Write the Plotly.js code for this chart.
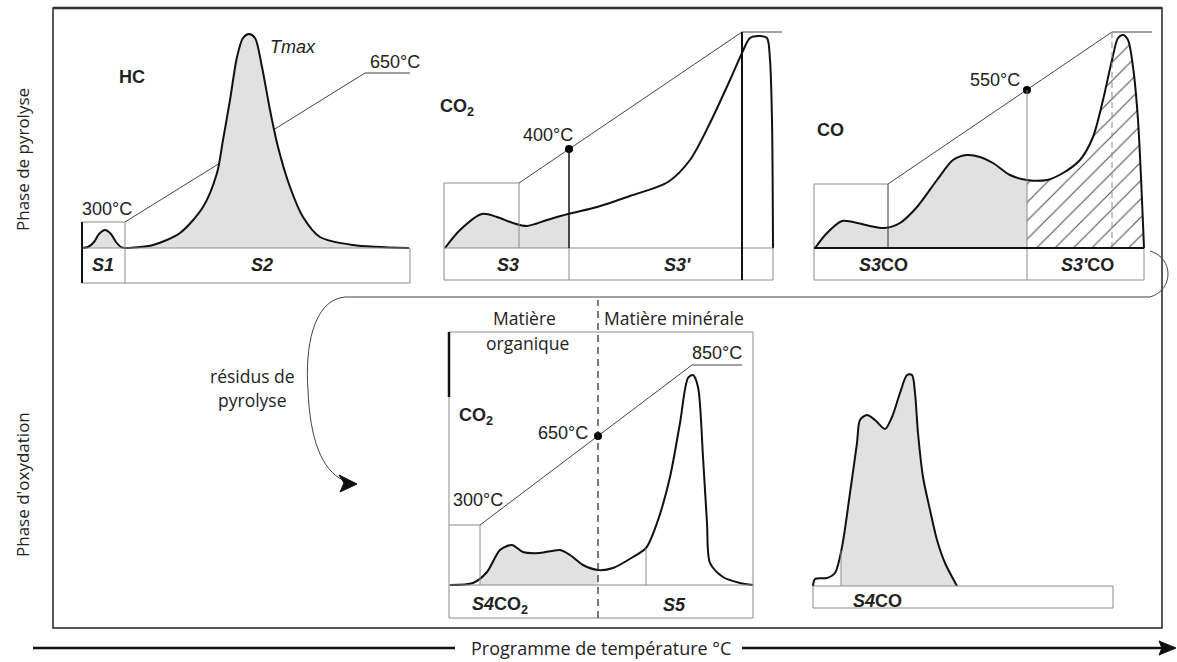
<!DOCTYPE html>
<html><head><meta charset="utf-8">
<script src="https://cdn.plot.ly/plotly-3.0.1.min.js"></script>
<style>html,body{margin:0;padding:0;background:#fff}#chart{width:1177px;height:662px}</style>
</head><body><div id="chart"></div>
<script>
// ---------- DATA (local units: time along panel, signal above baseline) ----------
// Pyrolysis HC (S1 + S2)
const hcT=[2,8,14,19,25,31,36,41,45,73,100,123,137,143,150,157,163,169,175,182,190,198,210,223,240,273,329];
const hcV=[0,1,6,14,18,14,6,1,0,3,15,41,75,108,148,191,210,214,210,181,138,101,61,31,11,3,0];
// Pyrolysis CO2 (S3, S3')
const co2T=[5,20,42,57,73,87,107,128,157,190,228,250,270,290,302,310,320,327,330,332,333];
const co2V=[0,18,34,31,25,22,28,34,41,52,66,88,125,168,195,210,212,210,188,128,0];
// Pyrolysis CO (S3CO, S3'CO)
const coT=[5,17,32,43,60,75,90,107,127,143,157,170,183,200,217,237,253,270,283,293,302,308,313,318,323,328,334];
const coV=[0,15,27,26,22,20,25,41,68,88,93,91,85,73,68,68,75,88,111,148,188,210,213,208,181,128,0];
// Oxidation CO2 (S4CO2, S5)
const oxT=[5,28,42,55,67,78,95,115,125,138,153,168,188,201,212,225,235,243,248,253,258,262,265,278,295,308];
const oxV=[0,2,13,35,40,33,32,35,30,20,15,17,28,37,62,108,162,207,210,198,128,62,22,8,2,0];
// Oxidation CO (S4CO)
const s4T=[13,15,27,35,42,50,57,60,67,75,85,92,100,107,112,115,118,123,130,137,145,157];
const s4V=[0,7,8,13,39,93,143,166,171,166,157,169,193,211,211,193,153,109,76,46,23,0];
// Temperature ramps
const hcRampT=[45,285,330],  hcRampV=[26,175,175];
const co2RampT=[79,302,342], co2RampV=[65,216,216];
const coRampT=[78,302,342],  coRampV=[64,216,216];
const oxRampT=[35,247,297],  oxRampV=[60,220,220];
// Cut-off points on the ramps
const co2CutT=[129], co2CutV=[99];
const coCutT=[217],  coCutV=[158];
const oxCutT=[153],  oxCutV=[149];
// Labels
const tempLabels={hcStart:'300°C',hcEnd:'650°C',co2Cut:'400°C',coCut:'550°C',oxStart:'300°C',oxCut:'650°C',oxEnd:'850°C'};
const peakLabels=['S1','S2',"S3","S3'"];

// ---------- LAYOUT ----------
const W=1177,H=662;
const NUM='Liberation Sans, Arial, sans-serif';
const HUM='Open Sans, Noto Sans, sans-serif';
const GRAY='#8a8a8a', INK='#111', FILL='#e1e1e1';
const FS=18, HS=17.5;
const panels={
  hc:{id:2,x0:80,x1:420,top:15,bot:292,base:248},
  co2:{id:3,x0:440,x1:790,top:15,bot:292,base:248},
  co:{id:4,x0:810,x1:1160,top:15,bot:292,base:248},
  ox:{id:5,x0:445,x1:760,top:293,bot:625,base:585},
  s4:{id:6,x0:800,x1:1120,top:360,bot:625,base:586}
};
const layout={width:W,height:H,margin:{l:0,r:0,t:0,b:0},paper_bgcolor:'#fff',plot_bgcolor:'rgba(0,0,0,0)',
  showlegend:false,font:{family:NUM,color:'#222'},
  xaxis:{domain:[0,1],range:[0,W],visible:false,fixedrange:true},
  yaxis:{domain:[0,1],range:[H,0],visible:false,fixedrange:true},
  shapes:[],annotations:[]};
Object.values(panels).forEach(p=>{
  layout['xaxis'+p.id]={domain:[p.x0/W,p.x1/W],range:[0,p.x1-p.x0],visible:false,fixedrange:true,anchor:'y'+p.id};
  layout['yaxis'+p.id]={domain:[1-p.bot/H,1-p.top/H],range:[-(p.bot-p.base),p.base-p.top],visible:false,fixedrange:true,anchor:'x'+p.id};
});
const ref=id=>id===''?{xref:'x',yref:'y'}:{xref:'x'+id,yref:'y'+id};
function line(id,x0,y0,x1,y1,color,width,dash){layout.shapes.push(Object.assign({type:'line',x0,y0,x1,y1,line:{color:color||GRAY,width:width||1,dash:dash||'solid'}},ref(id)));}
function rect(id,x0,y0,x1,y1,color,width){layout.shapes.push(Object.assign({type:'rect',x0,y0,x1,y1,line:{color:color||GRAY,width:width||1}},ref(id)));}
function path(id,d,color,width,fill){layout.shapes.push(Object.assign({type:'path',path:d,line:{color:color||'#333',width:width||1},fillcolor:fill||'rgba(0,0,0,0)'},ref(id)));}
function ann(id,x,y,text,o){o=o||{};layout.annotations.push(Object.assign({x,y,text,showarrow:false,xanchor:o.xa||'center',yanchor:'middle',textangle:o.angle||0,
  font:{family:o.family||NUM,size:o.size||FS,color:o.color||'#222'}},ref(id)));}

const traces=[];
function at(T,V,t){for(let i=0;i<T.length-1;i++){if(t>=T[i]&&t<=T[i+1]){const f=(t-T[i])/(T[i+1]-T[i]);return V[i]+f*(V[i+1]-V[i]);}}return 0;}
function slice(T,V,a,b){const x=[a],y=[at(T,V,a)];T.forEach((t,i)=>{if(t>a&&t<b){x.push(t);y.push(V[i]);}});x.push(b);y.push(at(T,V,b));return{x,y};}
function base(id){return {type:'scatter',mode:'lines',xaxis:'x'+id,yaxis:'y'+id,hoverinfo:'skip',showlegend:false,cliponaxis:false};}
function ramp(id,T,V){traces.push(Object.assign(base(id),{x:T,y:V,line:{color:'#444',width:1}}));}
function fill(id,T,V,a,b,hatch){const s=slice(T,V,a,b);const tr=Object.assign(base(id),{x:s.x,y:s.y,fill:'tozeroy',fillcolor:FILL,line:{width:0,shape:'spline',smoothing:0.8}});
  if(hatch){tr.fillcolor='#fff';tr.fillpattern={shape:'/',size:13,solidity:0.09,fgcolor:'#555',bgcolor:'#fff'};}traces.push(tr);}
function curve(id,T,V){traces.push(Object.assign(base(id),{x:T,y:V,line:{color:INK,width:2,shape:'spline',smoothing:0.8}}));}
function dot(id,T,V){traces.push(Object.assign(base(id),{x:T,y:V,mode:'markers',marker:{color:'#000',size:8}}));}

// ---- Panel HC ----
ramp(2,hcRampT,hcRampV);
fill(2,hcT,hcV,2,45); fill(2,hcT,hcV,45,329);
curve(2,hcT,hcV);
rect(2,2,-35,330,0); line(2,45,-35,45,26); line(2,2,26,45,26); line(2,2,-35,2,26,'#111',2);
ann(2,27,39,tempLabels.hcStart); ann(2,315,186,tempLabels.hcEnd);
ann(2,52,171,'<b>HC</b>'); ann(2,213,201,'<i>Tmax</i>');
ann(2,23,-17,'<b><i>'+peakLabels[0]+'</i></b>'); ann(2,182,-17,'<b><i>'+peakLabels[1]+'</i></b>');

// ---- Panel CO2 pyrolysis ----
ramp(3,co2RampT,co2RampV);
fill(3,co2T,co2V,5,co2CutT[0]);
curve(3,co2T,co2V); dot(3,co2CutT,co2CutV);
rect(3,4,-32,333,0); line(3,4,0,4,65); line(3,4,65,79,65); line(3,79,0,79,65);
line(3,co2CutT[0],-32,co2CutT[0],0); line(3,co2CutT[0],0,co2CutT[0],co2CutV[0],'#111',1.5);
line(3,302,-32,302,216,'#111',2);
ann(3,17,140,'<b>CO<sub>2</sub></b>'); ann(3,108,113,tempLabels.co2Cut);
ann(3,68,-17,'<b><i>'+peakLabels[2]+'</i></b>'); ann(3,237,-17,'<b><i>'+peakLabels[3]+'</i></b>');

// ---- Panel CO pyrolysis ----
ramp(4,coRampT,coRampV);
fill(4,coT,coV,5,coCutT[0]); fill(4,coT,coV,coCutT[0],334,true);
curve(4,coT,coV); dot(4,coCutT,coCutV);
rect(4,4,-32,334,0); line(4,4,0,4,64); line(4,4,64,78,64); line(4,78,0,78,64,'#333');
line(4,coCutT[0],-32,coCutT[0],coCutV[0]); line(4,302,0,302,216,GRAY,1,'6px,4px'); line(4,4,0,334,0,'#111',2);
ann(4,20,118,'<b>CO</b>'); ann(4,185,168,tempLabels.coCut);
ann(4,73,-17,'<b><i>S3</i>CO</b>'); ann(4,277,-17,"<b><i>S3'</i>CO</b>");

// ---- Panel CO2 oxidation ----
ramp(5,oxRampT,oxRampV);
fill(5,oxT,oxV,35,oxCutT[0]);
curve(5,oxT,oxV); dot(5,oxCutT,oxCutV);
rect(5,4,-33,308,253); line(5,4,188,4,253,'#111',2.5); line(5,4,60,35,60); line(5,35,0,35,60); line(5,4,0,308,0);
line(5,oxCutT[0],-33,oxCutT[0],285,'#222',1.2,'7px,5px'); line(5,201,0,201,at(oxT,oxV,201));
ann(5,79,267,'Matière',{family:HUM,size:HS}); ann(5,82,242,'organique',{family:HUM,size:HS});
ann(5,229,267,'Matière minérale',{family:HUM,size:HS});
ann(5,272,232,tempLabels.oxEnd); ann(5,118,152,tempLabels.oxCut); ann(5,33,85,tempLabels.oxStart);
ann(5,31,168,'<b>CO<sub>2</sub></b>');
ann(5,55,-20,'<b><i>S4</i>CO<sub>2</sub></b>'); ann(5,229,-20,'<b><i>S5</i></b>');

// ---- Panel CO oxidation ----
fill(6,s4T,s4V,41,157);
curve(6,s4T,s4V);
rect(6,13,-22,313,0); line(6,41,0,41,at(s4T,s4V,41));
ann(6,77,-15,'<b><i>S4</i>CO</b>');

// ---- Frame, connector, axes labels ----
rect('',53,8,1162,628,'#222',1.5); line('',53,8,1162,8,'#333',2.5);
path('','M 1150 251 C 1174 258 1174 290 1150 297 L 345 297 C 312 300 305 350 308 390 C 310 440 322 470 343 480','#444',1);
path('','M 357 484 L 339 475 L 344 483 L 340 492 Z','#111',1,'#111');
line('',33,648,455,648,'#111',2.5); line('',742,648,1163,648,'#111',2.5);
path('','M 1176 648 L 1159 641 L 1162 648 L 1159 655 Z','#111',1,'#111');
ann('',601,648,'Programme de température °C',{family:HUM,size:18});
ann('',22,160,'Phase de pyrolyse',{family:HUM,size:17,angle:-90});
ann('',22,485,"Phase d'oxydation",{family:HUM,size:17,angle:-90});
ann('',252,376,'résidus de',{family:HUM,size:HS}); ann('',252,400,'pyrolyse',{family:HUM,size:HS});

Plotly.newPlot('chart',traces,layout,{staticPlot:true,displayModeBar:false});
</script></body></html>
